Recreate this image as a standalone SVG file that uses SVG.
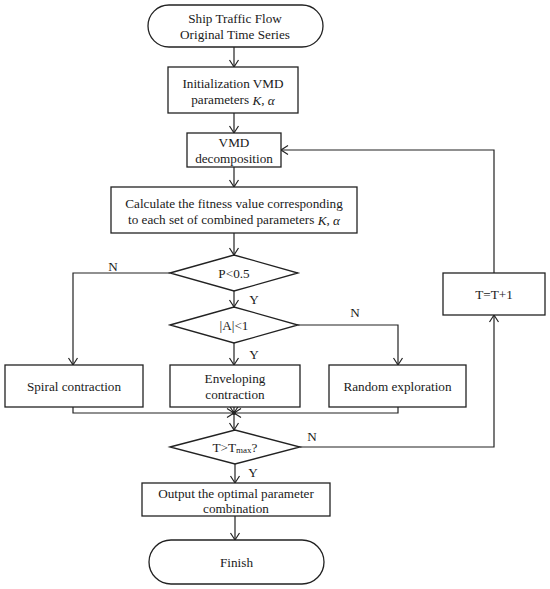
<svg xmlns="http://www.w3.org/2000/svg" width="550" height="589" viewBox="0 0 550 589" font-family="'Liberation Serif', 'Times New Roman', serif">
<defs>
<style>
.s{fill:#fff;stroke:#222;stroke-width:1.3}
.c{fill:none;stroke:#222;stroke-width:1.2}
text{font-family:'Liberation Serif','Times New Roman',serif;font-size:13.2px;fill:#1a1a1a;text-anchor:middle;dominant-baseline:central}
</style>
<marker id="a" markerUnits="userSpaceOnUse" viewBox="-8 -6 10 12" refX="0" refY="0" markerWidth="10" markerHeight="12" orient="auto">
<path d="M-7,-4.5 L0,0 L-7,4.5" fill="none" stroke="#222" stroke-width="1.2"/>
</marker>
</defs>
<rect width="550" height="589" fill="#fff"/>
<g id="connectors">
<path class="c" d="M234,47 V67" marker-end="url(#a)"/>
<path class="c" d="M234,113 V133" marker-end="url(#a)"/>
<path class="c" d="M234,167 V187" marker-end="url(#a)"/>
<path class="c" d="M234,233 V255" marker-end="url(#a)"/>
<path class="c" d="M170,273 H73 V365" marker-end="url(#a)"/>
<path class="c" d="M234,291 V307" marker-end="url(#a)"/>
<path class="c" d="M298,325 H398 V365" marker-end="url(#a)"/>
<path class="c" d="M234,343 V365" marker-end="url(#a)"/>
<path class="c" d="M73,407 V413 H234" marker-end="url(#a)"/>
<path class="c" d="M398,407 V413 H234" marker-end="url(#a)"/>
<path class="c" d="M234,407 V413" marker-end="url(#a)"/>
<circle cx="234" cy="413" r="2" fill="#222"/>
<path class="c" d="M234,413 V430" marker-end="url(#a)"/>
<path class="c" d="M300,447 H494 V315" marker-end="url(#a)"/>
<path class="c" d="M494,273 V150 H281" marker-end="url(#a)"/>
<path class="c" d="M235,464 V483" marker-end="url(#a)"/>
<path class="c" d="M235,516 V540" marker-end="url(#a)"/>
<text x="113" y="266">N</text>
<text x="254" y="299">Y</text>
<text x="355" y="312">N</text>
<text x="254" y="354">Y</text>
<text x="312" y="436">N</text>
<text x="253" y="472">Y</text>
</g>
<g id="start">
<rect class="s" x="148" y="5" width="175" height="42" rx="21" ry="21"/>
<text x="235" y="18.5">Ship Traffic Flow</text>
<text x="235" y="34">Original Time Series</text>
</g>
<g id="init">
<rect class="s" x="168" y="67" width="130" height="46"/>
<text x="233" y="83.5">Initialization VMD</text>
<text x="233" y="99.5">parameters <tspan font-style="italic">K</tspan>, <tspan font-style="italic">α</tspan></text>
</g>
<g id="vmd">
<rect class="s" x="187" y="133" width="94" height="34"/>
<text x="234" y="142.5">VMD</text>
<text x="234" y="158">decomposition</text>
</g>
<g id="calc">
<rect class="s" x="111" y="187" width="246" height="46"/>
<text x="234" y="203.5">Calculate the fitness value corresponding</text>
<text x="234" y="219.5">to each set of combined parameters <tspan font-style="italic">K</tspan>, <tspan font-style="italic">α</tspan></text>
</g>
<g id="p">
<polygon class="s" points="170,273 234,255 298,273 234,291"/>
<text x="234" y="273">P&lt;0.5</text>
</g>
<g id="a1">
<polygon class="s" points="170,325 234,307 298,325 234,343"/>
<text x="234" y="325">|A|&lt;1</text>
</g>
<g id="spiral">
<rect class="s" x="5" y="365" width="138" height="42"/>
<text x="74" y="386.5">Spiral contraction</text>
</g>
<g id="envelop">
<rect class="s" x="170" y="365" width="130" height="42"/>
<text x="235" y="378.5">Enveloping</text>
<text x="235" y="394">contraction</text>
</g>
<g id="random">
<rect class="s" x="329" y="365" width="137" height="42"/>
<text x="397.5" y="386.5">Random exploration</text>
</g>
<g id="tmax">
<polygon class="s" points="170,447 235,430 300,447 235,464"/>
<text x="235" y="447">T&gt;T<tspan font-size="9" dy="3">max</tspan><tspan dy="-3">?</tspan></text>
</g>
<g id="tinc">
<rect class="s" x="443" y="273" width="102" height="42"/>
<text x="494" y="294.5">T=T+1</text>
</g>
<g id="output">
<rect class="s" x="142" y="483" width="188" height="33"/>
<text x="236" y="493.5">Output the optimal parameter</text>
<text x="236" y="508.5">combination</text>
</g>
<g id="finish">
<rect class="s" x="149" y="540" width="175" height="44" rx="22" ry="22"/>
<text x="236.5" y="562">Finish</text>
</g>
</svg>
